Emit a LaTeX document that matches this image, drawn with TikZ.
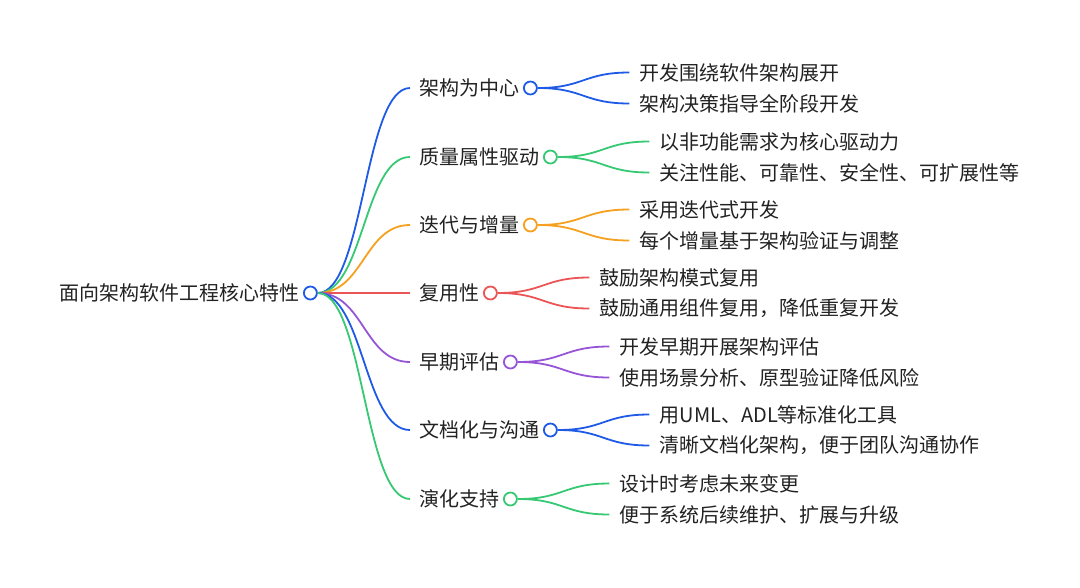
\documentclass[tikz,border=0pt]{standalone}
\usepackage{fontspec}
\setmainfont{Noto Sans CJK SC}
\usetikzlibrary{calc,positioning}
\definecolor{mblue}{RGB}{30,90,230}
\definecolor{mgreen}{RGB}{55,200,115}
\definecolor{morange}{RGB}{245,160,30}
\definecolor{mred}{RGB}{235,85,85}
\definecolor{mpurple}{RGB}{150,85,215}
\definecolor{txtgray}{RGB}{34,34,34}
\begin{document}
\begin{tikzpicture}[x=1pt,y=-1pt,
    every node/.style={font=\fontsize{20}{24}\selectfont, text=txtgray},
    dot/.style={circle, draw, line width=1.8pt, fill=white, minimum size=13pt, inner sep=0pt},
    topic/.style={anchor=west, inner xsep=9pt, inner ysep=0pt},
    leaf/.style={anchor=west, inner xsep=10pt, inner ysep=0pt},
    branch/.style={line width=1.8pt}]
    \useasboundingbox (0,0) rectangle (1080,587);
    % root
    \node[anchor=east, inner sep=0pt] (root) at (300,293) {面向架构软件工程核心特性};
    \node[dot, draw=mblue, right=3pt of root] (rootdot) {};
    % branches and leaves
    \foreach \i/\yy/\col/\name/\la/\lb in {
        1/88/mblue/{架构为中心}/{开发围绕软件架构展开}/{架构决策指导全阶段开发},
        2/157/mgreen/{质量属性驱动}/{以非功能需求为核心驱动力}/{关注性能、可靠性、安全性、可扩展性等},
        3/225/morange/{迭代与增量}/{采用迭代式开发}/{每个增量基于架构验证与调整},
        4/293/mred/{复用性}/{鼓励架构模式复用}/{鼓励通用组件复用，降低重复开发},
        5/362/mpurple/{早期评估}/{开发早期开展架构评估}/{使用场景分析、原型验证降低风险},
        6/430/mblue/{文档化与沟通}/{用UML、ADL等标准化工具}/{清晰文档化架构，便于团队沟通协作},
        7/499/mgreen/{演化支持}/{设计时考虑未来变更}/{便于系统后续维护、扩展与升级}}
    {
        \node[topic] (c\i) at (410,\yy) {\name};
        \node[dot, draw=\col] (d\i) at ($(c\i.east)+(2,0)$) {};
        \node[leaf] (l\i a) at ($(d\i)+(99,-15.5)$) {\la};
        \node[leaf] (l\i b) at ($(d\i)+(99,15.5)$) {\lb};
        \path[draw, branch, \col](rootdot.east) .. controls +(46,0) and +(-46,0) .. (c\i.west);
        \path[draw, branch, \col](d\i.east) .. controls +(46,0) and +(-46,0) .. (l\i a.west);
        \path[draw, branch, \col](d\i.east) .. controls +(46,0) and +(-46,0) .. (l\i b.west);
    }
\end{tikzpicture}
\end{document}
